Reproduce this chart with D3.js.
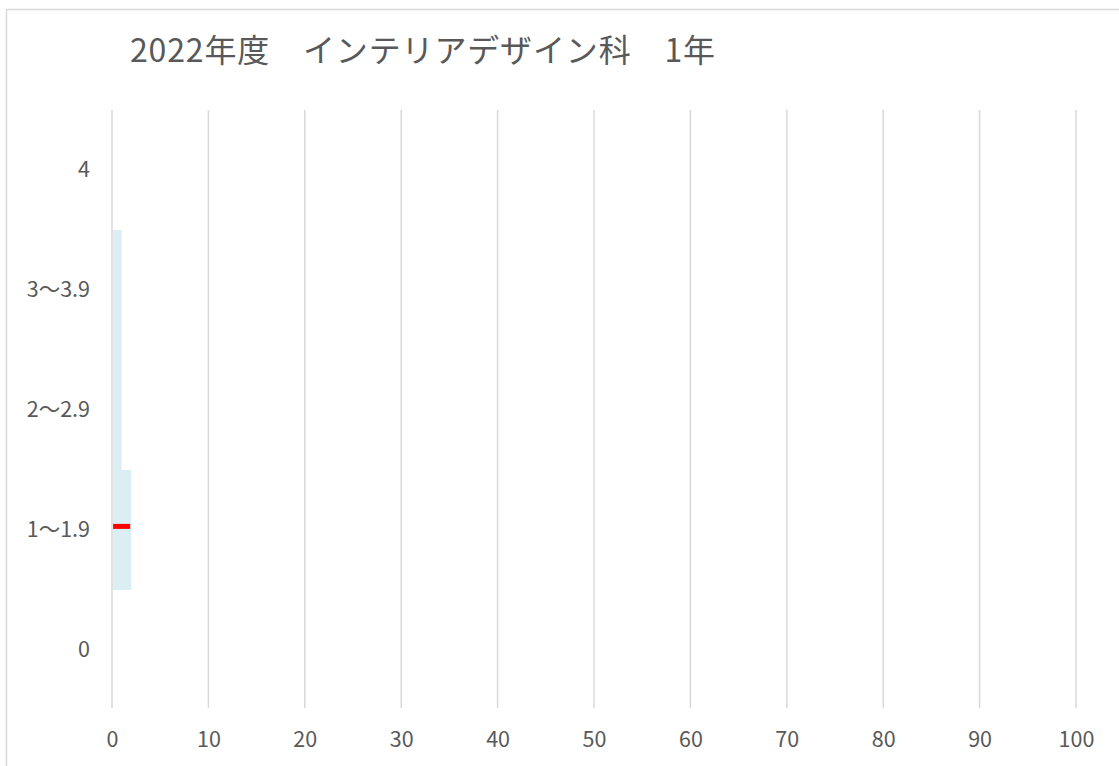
<!DOCTYPE html>
<html>
<head>
<meta charset="utf-8">
<script src="https://cdn.jsdelivr.net/npm/d3@7"></script>
<style>
    body { margin: 0; background: #fff; }
    text { font-family: "Noto Sans CJK JP", "Noto Sans", sans-serif; fill: #595959; }
</style>
</head>
<body>
<div id="chart"></div>
<script>
// data
var title = "2022年度　インテリアデザイン科　1年";
var categories = ["0", "1〜1.9", "2〜2.9", "3〜3.9", "4"];
var counts = [0, 2, 1, 1, 0];
var meanValue = 1.03;   // red marker, position on the category axis
var meanCount = 1;      // red marker, x position
var xTicks = [0, 10, 20, 30, 40, 50, 60, 70, 80, 90, 100];

var svgWidth = 1119;
var svgHeight = 766;
var margin = { top: 110, right: 43, bottom: 56, left: 112 };
var chartWidth = svgWidth - margin.left - margin.right;
var chartHeight = svgHeight - margin.top - margin.bottom;

var svg = d3.select("#chart").append("svg")
    .attr("width", svgWidth)
    .attr("height", svgHeight);

// outer chart border
svg.append("rect")
    .attr("x", 6.5)
    .attr("y", 9.5)
    .attr("width", svgWidth + 10)
    .attr("height", svgHeight + 10)
    .attr("fill", "none")
    .attr("stroke", "#d9d9d9")
    .attr("stroke-width", 1.5);

svg.append("text")
    .attr("x", 130)
    .attr("y", 62)
    .attr("font-size", 32)
    .attr("textLength", 585)
    .attr("lengthAdjust", "spacing")
    .text(title);

var chartGroup = svg.append("g")
    .attr("transform", `translate(${margin.left}, ${margin.top})`);

var xScale = d3.scaleLinear()
    .domain([0, 100])
    .range([0, chartWidth]);

// categories listed bottom to top
var yScale = d3.scaleBand()
    .domain(categories)
    .range([chartHeight, 0])
    .padding(0);

// continuous version of the category axis for the marker
var yValueScale = d3.scaleLinear()
    .domain([-0.5, categories.length - 0.5])
    .range([chartHeight, 0]);

// gridlines
chartGroup.append("g").selectAll("line")
    .data(xTicks)
    .enter()
    .append("line")
    .attr("x1", d => xScale(d))
    .attr("x2", d => xScale(d))
    .attr("y1", 0)
    .attr("y2", chartHeight - 2)
    .attr("stroke", "#d9d9d9")
    .attr("stroke-width", 1.5);

// bars
chartGroup.append("g").selectAll("rect")
    .data(categories)
    .enter()
    .append("rect")
    .attr("x", xScale(0) + 1)
    .attr("y", d => yScale(d))
    .attr("width", (d, i) => Math.max(0, xScale(counts[i]) - xScale(0) - 1))
    .attr("height", yScale.bandwidth())
    .attr("fill", "#daeef3");

// mean marker
chartGroup.append("line")
    .attr("x1", xScale(meanCount) - 8.5)
    .attr("x2", xScale(meanCount) + 8.5)
    .attr("y1", yValueScale(meanValue))
    .attr("y2", yValueScale(meanValue))
    .attr("stroke", "#ff0000")
    .attr("stroke-width", 5);

// x axis labels
var xAxis = d3.axisBottom(xScale)
    .tickValues(xTicks)
    .tickSize(0)
    .tickPadding(22);

chartGroup.append("g")
    .attr("transform", `translate(0, ${chartHeight})`)
    .call(xAxis)
    .call(g => g.select(".domain").remove())
    .selectAll("text")
    .attr("font-size", 21.5)
    .attr("font-family", "'Noto Sans CJK JP', sans-serif")
    .attr("fill", "#595959");

// y axis labels
var yAxis = d3.axisLeft(yScale)
    .tickSize(0)
    .tickPadding(22);

chartGroup.append("g")
    .call(yAxis)
    .call(g => g.select(".domain").remove())
    .selectAll("text")
    .attr("font-size", 21.5)
    .attr("font-family", "'Noto Sans CJK JP', sans-serif")
    .attr("fill", "#595959");
</script>
</body>
</html>
